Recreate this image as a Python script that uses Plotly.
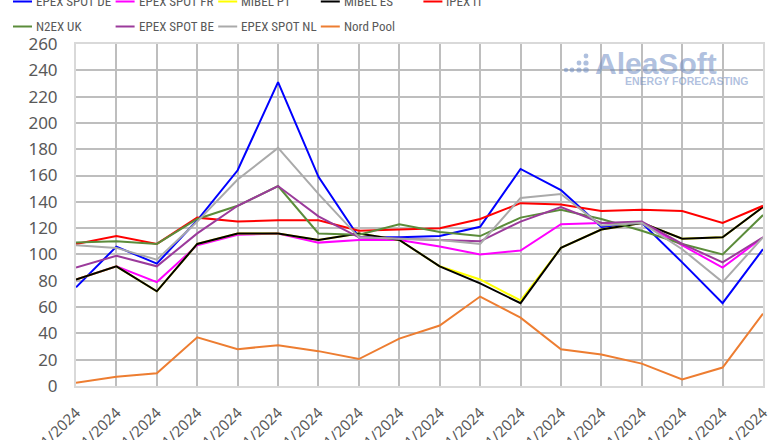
import plotly.graph_objects as go

dates = ["01/11/2024", "02/11/2024", "03/11/2024", "04/11/2024", "05/11/2024", "06/11/2024",
         "07/11/2024", "08/11/2024", "09/11/2024", "10/11/2024", "11/11/2024", "12/11/2024",
         "13/11/2024", "14/11/2024", "15/11/2024", "16/11/2024", "17/11/2024", "18/11/2024"]

epex_de = [75, 106, 93, 126, 164, 231, 159, 113, 113, 114, 121, 165, 149, 121, 124, 94, 63, 104]
epex_fr = [81, 91, 79, 107, 115, 116, 109, 111, 111, 106, 100, 103, 123, 124, 124, 107, 90, 113]
mibel_pt = [81, 91, 72, 108, 116, 116, 111, 116, 111, 91, 81, 65, 105, 119, 124, 112, 113, 136]
mibel_es = [81, 91, 72, 108, 116, 116, 111, 116, 111, 91, 78, 63, 105, 119, 124, 112, 113, 136]
ipex_it = [108, 114, 108, 128, 125, 126, 126, 118, 119, 120, 127, 139, 138, 133, 134, 133, 124, 137]
n2ex_uk = [109, 110, 108, 127, 137, 152, 116, 115, 123, 117, 114, 128, 134, 127, 118, 108, 100, 130]
epex_be = [90, 99, 91, 116, 137, 152, 129, 113, 112, 111, 110, 125, 136, 124, 125, 108, 94, 113]
epex_nl = [107, 105, 96, 125, 157, 181, 146, 113, 112, 111, 108, 143, 146, 122, 124, 104, 79, 113]
nord_pool = [2.5, 7, 9.6, 37, 28, 31, 26.5, 20.5, 36, 46, 68, 52, 28, 24, 17, 5, 14, 55]

series_names = ["EPEX SPOT DE", "EPEX SPOT FR", "MIBEL PT", "MIBEL ES", "IPEX IT",
                "N2EX UK", "EPEX SPOT BE", "EPEX SPOT NL", "Nord Pool"]
series_values = [epex_de, epex_fr, mibel_pt, mibel_es, ipex_it, n2ex_uk, epex_be, epex_nl, nord_pool]
series_colors = ["#0000FF", "#FF00FF", "#FFFF00", "#000000", "#FF0000",
                 "#5B8C3A", "#9B3A9B", "#AAAAAA", "#ED7D31"]

y_ticks = list(range(0, 261, 20))

W, H = 780, 440
ML, MR, MT, MB = 76, 17, 44, 54
PW, PH = W - ML - MR, H - MT - MB

def px(x):
    return (x - ML) / PW

def py(y):
    return (H - MB - y) / PH

fig = go.Figure()
for name, vals, col in zip(series_names, series_values, series_colors):
    fig.add_trace(go.Scatter(x=dates, y=vals, name=name, mode="lines",
                             line=dict(color=col, width=2), showlegend=False))

shapes = []
annotations = []
# manual legend
legend_font = "Roboto Condensed, Liberation Sans Narrow, Arial Narrow, Roboto"
for k, (name, col) in enumerate(zip(series_names, series_colors)):
    row, c = divmod(k, 5)
    x0 = 13 + 102.6 * c
    yc = 1.5 + 25 * row
    shapes.append(dict(type="line", xref="paper", yref="paper",
                       x0=px(x0), x1=px(x0 + 19), y0=py(yc), y1=py(yc),
                       line=dict(color=col, width=2)))
    annotations.append(dict(xref="paper", yref="paper", x=px(x0 + 21), y=py(yc),
                            xanchor="left", yanchor="middle", showarrow=False,
                            text=name,
                            font=dict(family=legend_font, size=13, color="#595959")))

# logo watermark
logo_col = "rgba(110,140,195,0.55)"
dots = [(566, 70, 2.2), (572, 70, 2.4), (579, 70, 2.6), (586, 70, 2.8),
        (579, 63, 2.4), (586, 63, 2.6), (586, 56, 2.4)]
for (dx, dy, r) in dots:
    shapes.append(dict(type="circle", xref="paper", yref="paper",
                       x0=px(dx - r), x1=px(dx + r), y0=py(dy + r), y1=py(dy - r),
                       fillcolor=logo_col, line=dict(width=0), layer="above"))
annotations.append(dict(xref="paper", yref="paper", x=px(593), y=py(63),
                        xanchor="left", yanchor="middle", showarrow=False,
                        text="<b>AleaSoft</b>",
                        font=dict(family="Liberation Sans, Arial", size=30, color=logo_col)))
annotations.append(dict(xref="paper", yref="paper", x=px(623), y=py(80.5),
                        xanchor="left", yanchor="middle", showarrow=False,
                        text="<b>ENERGY FORECASTING</b>",
                        font=dict(family="Liberation Sans, Arial", size=10.5, color=logo_col)))

fig.update_layout(
    width=W, height=H,
    margin=dict(l=ML, r=MR, t=MT, b=MB, autoexpand=False),
    paper_bgcolor="white", plot_bgcolor="white",
    shapes=shapes, annotations=annotations,
    showlegend=False,
    xaxis=dict(type="category", range=[0, len(dates) - 1], showgrid=True,
               gridcolor="#BEBEBE", gridwidth=1.5, tickangle=-45,
               showline=True, linecolor="#D9D9D9", linewidth=2, mirror=True,
               automargin=False, zeroline=False, ticklabelstandoff=10,
               tickfont=dict(family="Noto Sans, Open Sans", size=15, color="#595959")),
    yaxis=dict(range=[0, 260], tickvals=y_ticks, showgrid=True,
               gridcolor="#BEBEBE", gridwidth=1.5,
               showline=True, linecolor="#D9D9D9", linewidth=2, mirror=True,
               automargin=False, zeroline=False, ticklabelstandoff=13,
               tickfont=dict(family="Noto Sans, Open Sans", size=17, color="#595959")),
)

fig.write_html("out.html", config={"displayModeBar": False},
               post_script="document.body.style.margin='0';document.body.style.overflow='hidden';")
